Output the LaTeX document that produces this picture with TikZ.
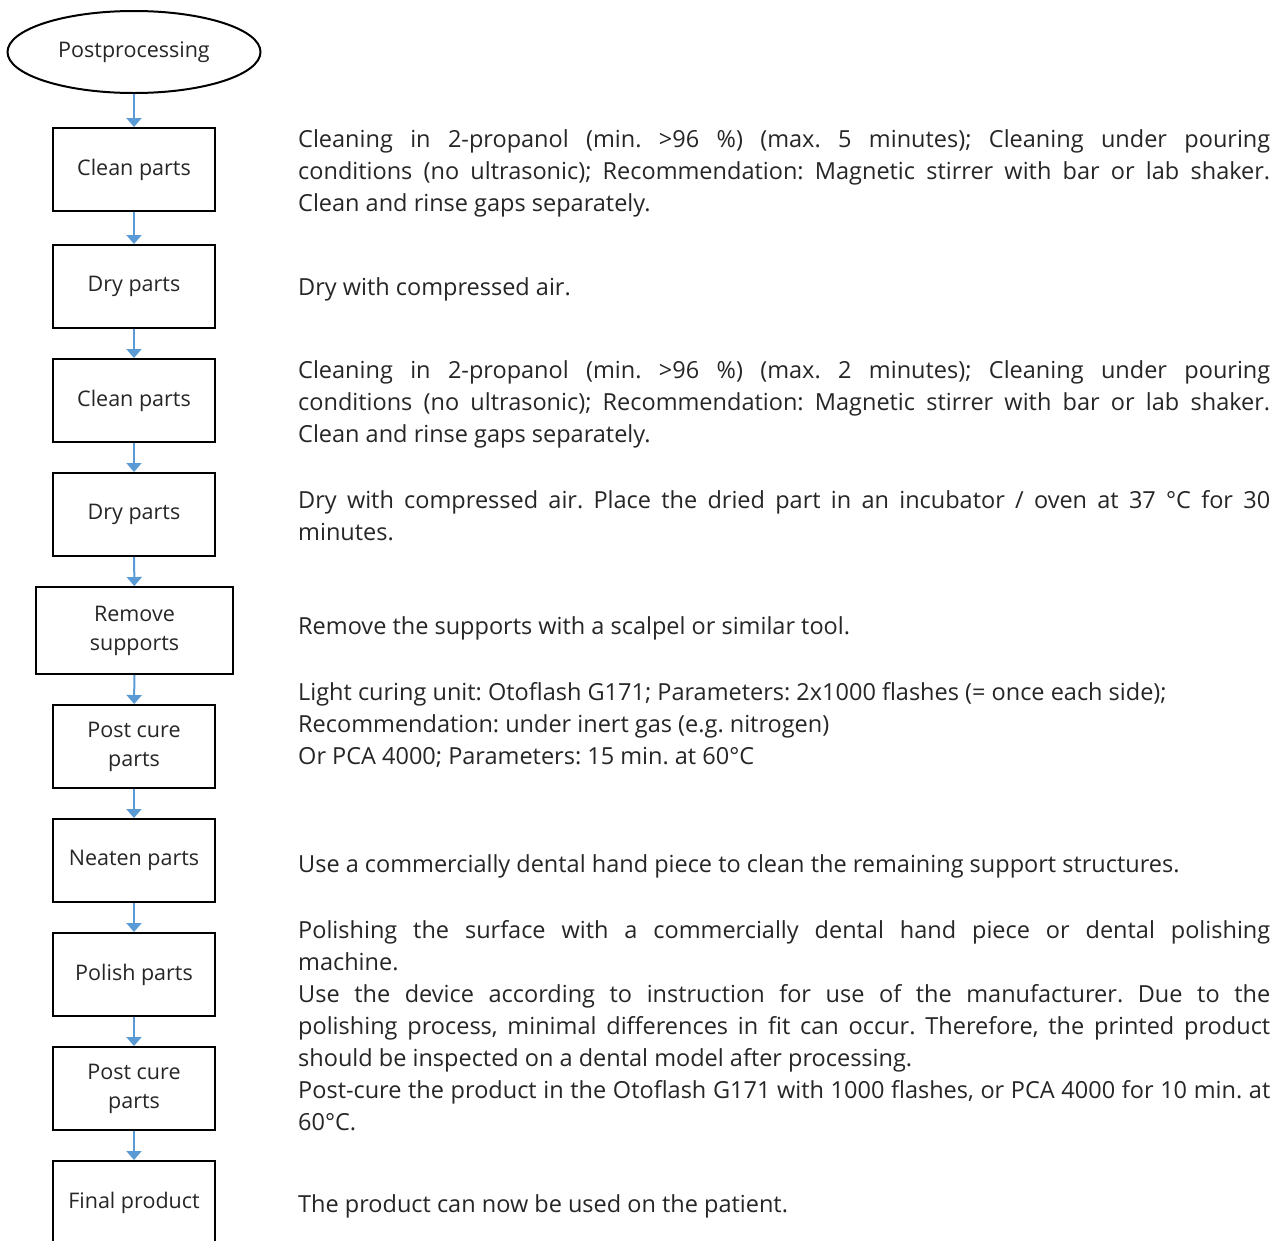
\documentclass[tikz,border=0pt]{standalone}
\usepackage{fontspec}
\setmainfont{Open Sans}
\usetikzlibrary{shapes.geometric,arrows.meta}
\definecolor{flowblue}{HTML}{5B9BD5}
\definecolor{ink}{HTML}{262626}
\frenchspacing
\tikzset{
  stepbox/.style={draw=black,line width=2pt,minimum width=162pt,minimum height=83pt,
    inner sep=0pt,align=center,text=ink,font=\fontsize{21.5}{29}\selectfont},
  flow/.style={draw=flowblue,line width=2pt,-{Triangle[width=15pt,length=9pt]}},
  note/.style={anchor=west,text width=972pt,align=justify,inner sep=0pt,text=ink,
    yshift=-2pt,font=\fontsize{23.5}{32}\selectfont}
}
\begin{document}
\begin{tikzpicture}[x=1pt,y=-1pt]
  \useasboundingbox[fill=white] (0,0) rectangle (1282,1240);
  \node[ellipse,draw=black,line width=2pt,minimum width=253pt,minimum height=82pt,
    inner sep=0pt,text=ink,font=\fontsize{21.5}{29}\selectfont] (post) at (134,52) {Postprocessing};
  \node[stepbox] (clean1) at (134,169.5) {Clean parts};
  \node[stepbox] (dry1) at (134,286.5) {Dry parts};
  \node[stepbox] (clean2) at (134,400.5) {Clean parts};
  \node[stepbox] (dry2) at (134,514.5) {Dry parts};
  \node[stepbox,minimum width=197pt,minimum height=87pt] (remove) at (134.5,630.5) {Remove\\supports};
  \node[stepbox] (cure1) at (134,746.5) {Post cure\\parts};
  \node[stepbox] (neaten) at (134,860.5) {Neaten parts};
  \node[stepbox] (polish) at (134,974.5) {Polish parts};
  \node[stepbox] (cure2) at (134,1088.5) {Post cure\\parts};
  \node[stepbox] (final) at (134,1202.5) {Final product};
  \foreach \a/\b in {post/clean1,clean1/dry1,dry1/clean2,clean2/dry2,dry2/remove,
    remove/cure1,cure1/neaten,neaten/polish,polish/cure2,cure2/final}
    \draw[flow] (\a) -- (\b);
  % descriptions
  \node[note] (tclean1) at (298,171) {Cleaning in 2-propanol (min. >96 \%) (max. 5 minutes); Cleaning under pouring\linebreak
    conditions (no ultrasonic); Recommendation: Magnetic stirrer with bar or lab shaker.\linebreak
    Clean and rinse gaps separately.};
  \node[note] (tdry1) at (298,287) {Dry with compressed air.};
  \node[note] (tclean2) at (298,402) {Cleaning in 2-propanol (min. >96 \%) (max. 2 minutes); Cleaning under pouring\linebreak
    conditions (no ultrasonic); Recommendation: Magnetic stirrer with bar or lab shaker.\linebreak
    Clean and rinse gaps separately.};
  \node[note] (tdry2) at (298,514) {Dry with compressed air. Place the dried part in an incubator / oven at 37 °C for 30\linebreak
    minutes.};
  \node[note] (tremove) at (298,626) {Remove the supports with a scalpel or similar tool.};
  \node[note] (tcure1) at (298,723) {Light curing unit: Otoflash G171; Parameters: 2x1000 flashes (= once each side);\\
    Recommendation: under inert gas (e.g. nitrogen)\\
    Or PCA 4000; Parameters: 15 min. at 60°C};
  \node[note] (tneaten) at (298,864) {Use a commercially dental hand piece to clean the remaining support structures.};
  \node[note] (tpolish) at (298,1024) {Polishing the surface with a commercially dental hand piece or dental polishing\linebreak
    machine.\par
    Use the device according to instruction for use of the manufacturer. Due to the\linebreak
    polishing process, minimal differences in fit can occur. Therefore, the printed product\linebreak
    should be inspected on a dental model after processing.\par
    Post-cure the product in the Otoflash G171 with 1000 flashes, or PCA 4000 for 10 min. at\linebreak
    60°C.};
  \node[note] (tfinal) at (298,1204) {The product can now be used on the patient.};
\end{tikzpicture}
\end{document}
